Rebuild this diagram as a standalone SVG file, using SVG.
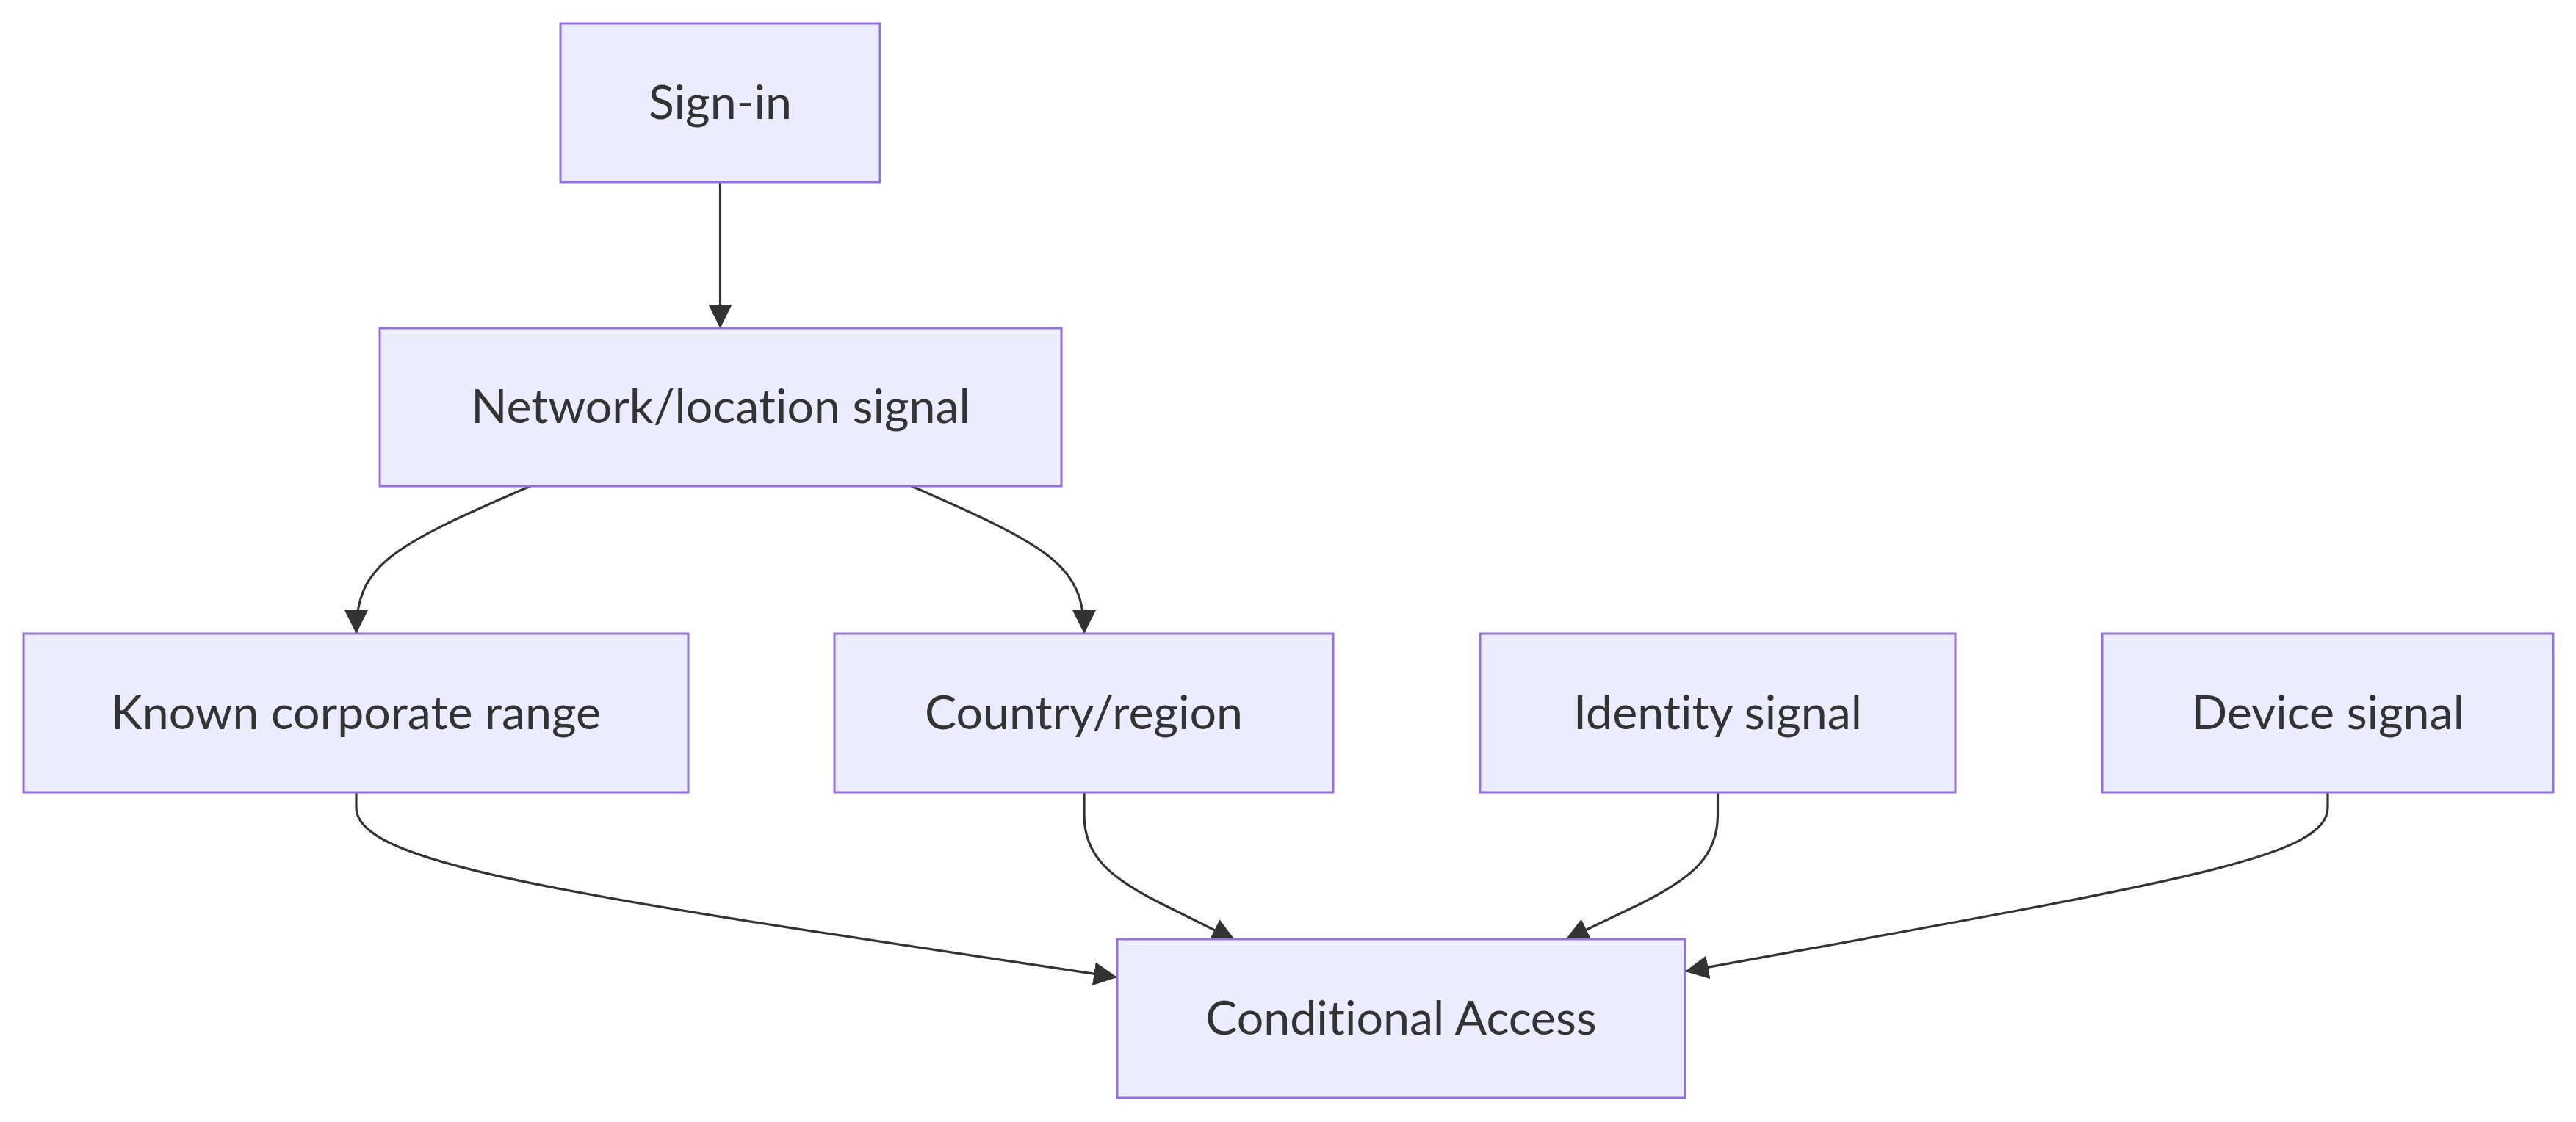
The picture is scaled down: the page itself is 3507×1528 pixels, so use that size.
<svg xmlns="http://www.w3.org/2000/svg" width="3507" height="1528" viewBox="0 0 3507 1528">
<style>
.node rect{fill:#ECECFF;stroke:#9370DB;stroke-width:3}
.node text{fill:#333333;font-family:"Trebuchet MS",Lato,"Liberation Sans",sans-serif;font-size:64.5px;text-anchor:middle;font-variant-ligatures:none;font-feature-settings:"liga" 0}
.edge{fill:none;stroke:#333333;stroke-width:3.2}
</style>
<defs>
<marker id="arrow" viewBox="0 0 10 10" refX="10" refY="5" markerUnits="userSpaceOnUse" markerWidth="32" markerHeight="32" orient="auto">
<path d="M0,0 L10,5 L0,10 z" fill="#333333"/>
</marker>
</defs>
<rect width="3507" height="1528" fill="#ffffff"/>
<g id="connectors">
<path class="edge" d="M980.5,248 L980.5,447" marker-end="url(#arrow)"/>
<path class="edge" d="M722,662 C530,745 485,770 485,863" marker-end="url(#arrow)"/>
<path class="edge" d="M1241,662 C1430,745 1476,770 1476,863" marker-end="url(#arrow)"/>
<path class="edge" d="M485,1079 L485,1100 C485,1180 800,1222 1521,1331" marker-end="url(#arrow)"/>
<path class="edge" d="M1476,1079 L1476,1110 C1476,1165 1510,1195 1580,1230 L1682,1281" marker-end="url(#arrow)"/>
<path class="edge" d="M2338.5,1079 L2338.5,1110 C2338.5,1165 2305,1195 2235,1230 L2131,1280" marker-end="url(#arrow)"/>
<path class="edge" d="M3169,1079 L3169,1100 C3169,1170 2950,1203 2294,1323" marker-end="url(#arrow)"/>
</g>
<g id="signin" class="node"><rect x="763" y="32" width="435" height="216"/><text x="980.5" y="162">Sign-in</text></g>
<g id="network" class="node"><rect x="517" y="447" width="928" height="215"/><text x="981" y="576">Network/location signal</text></g>
<g id="known" class="node"><rect x="32" y="863" width="905" height="216"/><text x="484.5" y="993">Known corporate range</text></g>
<g id="country" class="node"><rect x="1136" y="863" width="679" height="216"/><text x="1475.5" y="993">Country/region</text></g>
<g id="identity" class="node"><rect x="2015" y="863" width="647" height="216"/><text x="2338.5" y="993">Identity signal</text></g>
<g id="device" class="node"><rect x="2862" y="863" width="614" height="216"/><text x="3169" y="993">Device signal</text></g>
<g id="ca" class="node"><rect x="1521" y="1279" width="773" height="216"/><text x="1907.5" y="1409">Conditional Access</text></g>
</svg>
